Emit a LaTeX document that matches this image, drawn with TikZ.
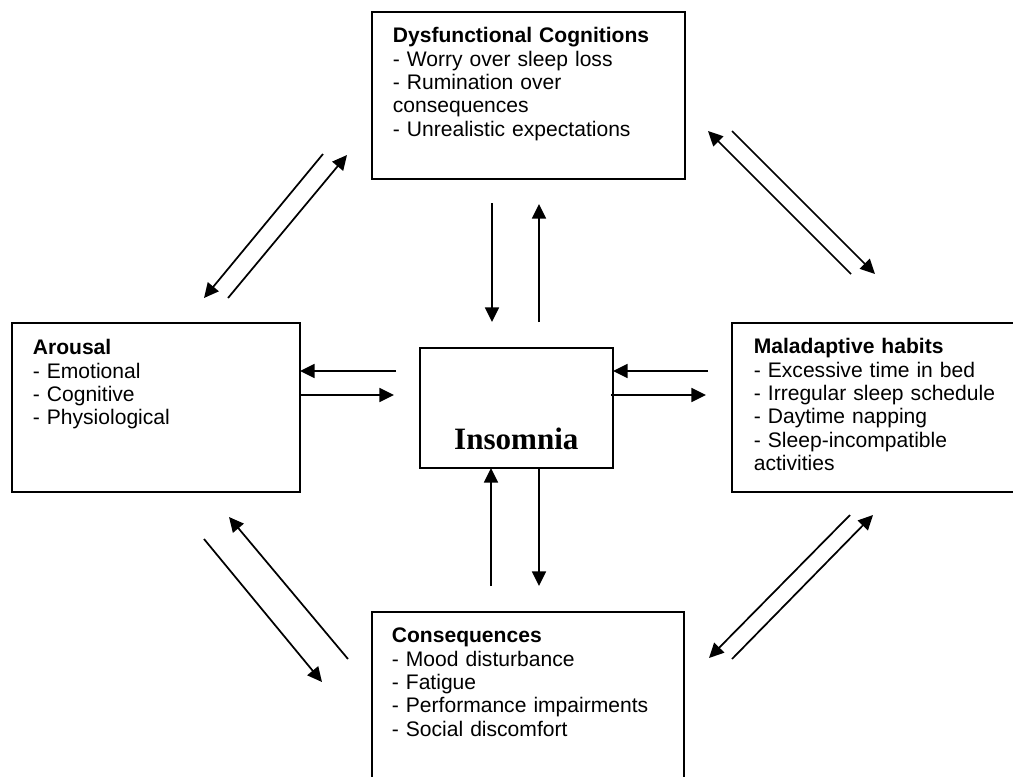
\documentclass[tikz,border=0pt]{standalone}
\usepackage{fontspec}
\setmainfont{Liberation Sans}
\newfontfamily\serifbold{Liberation Serif}
\usetikzlibrary{arrows.meta}

\begin{document}
\begin{tikzpicture}[x=0.75pt, y=-0.75pt,
  font=\fontsize{15.8pt}{17.5pt}\selectfont, >={Triangle[length=11pt,width=10.5pt]},
  box/.style={draw, line width=1.3pt, anchor=north west, align=left, inner ysep=0pt},
  flow/.style={->, line width=1.3pt}]
  \useasboundingbox (0,0) rectangle (1013,776);
  % the five boxes
  \node[box, inner xsep=15.75pt, text width=203.25pt, text height=23.25pt, text depth=102pt] (cog) at (371,11)
    {\textbf{Dysfunctional Cognitions}\\- Worry over sleep loss\\- Rumination over\\consequences\\- Unrealistic expectations};
  \node[box, inner xsep=15.75pt, text width=184.5pt, text height=24pt, text depth=102.75pt] (arousal) at (11,322)
    {\textbf{Arousal}\\- Emotional\\- Cognitive\\- Physiological};
  \node[box, inner xsep=16.5pt, text width=191.25pt, text height=23.25pt, text depth=103.5pt] (habits) at (731,322)
    {\textbf{Maladaptive habits}\\- Excessive time in bed\\- Irregular sleep schedule\\- Daytime napping\\- Sleep-incompatible\\activities};
  \node[box, inner xsep=15pt, text width=204pt, text height=23.25pt, text depth=102.75pt] (conseq) at (371,611)
    {\textbf{Consequences}\\- Mood disturbance\\- Fatigue\\- Performance impairments\\- Social discomfort};
  \node[draw, line width=1.3pt, anchor=north west, inner sep=0pt, minimum width=144.75pt,
    text height=76.5pt, text depth=13.5pt, font=\serifbold\bfseries\fontsize{23.3pt}{26pt}\selectfont] (ins) at (419,347) {Insomnia};

  % cognitions <-> insomnia
  \coordinate (ci-a) at (492,203); \coordinate (ci-b) at (492,322);
  \coordinate (ic-a) at (539,322); \coordinate (ic-b) at (539,204);
  \draw[flow] (ci-a) -- (ci-b); \draw[flow] (ic-a) -- (ic-b);
  % consequences <-> insomnia
  \coordinate (ki-a) at (491,586); \coordinate (ki-b) at (491,468);
  \coordinate (ik-a) at (539,468); \coordinate (ik-b) at (539,586);
  \draw[flow] (ki-a) -- (ki-b); \draw[flow] (ik-a) -- (ik-b);
  % arousal <-> insomnia
  \coordinate (ia-a) at (396,371); \coordinate (ia-b) at (300,371);
  \coordinate (ai-a) at (299,395); \coordinate (ai-b) at (394,395);
  \draw[flow] (ia-a) -- (ia-b); \draw[flow] (ai-a) -- (ai-b);
  % habits <-> insomnia
  \coordinate (ih-a) at (708,371); \coordinate (ih-b) at (613,371);
  \coordinate (hi-a) at (611,395); \coordinate (hi-b) at (706,395);
  \draw[flow] (ih-a) -- (ih-b); \draw[flow] (hi-a) -- (hi-b);

  % outer ring
  \coordinate (ca-a) at (323,154); \coordinate (ca-b) at (204,298);
  \coordinate (ac-a) at (228,298); \coordinate (ac-b) at (347,155);
  \draw[flow] (ca-a) -- (ca-b); \draw[flow] (ac-a) -- (ac-b);
  \coordinate (hc-a) at (851,274); \coordinate (hc-b) at (708,131);
  \coordinate (ch-a) at (732,131); \coordinate (ch-b) at (875,274);
  \draw[flow] (hc-a) -- (hc-b); \draw[flow] (ch-a) -- (ch-b);
  \coordinate (ka-a) at (348,659); \coordinate (ka-b) at (229,517);
  \coordinate (ak-a) at (204,539); \coordinate (ak-b) at (322,682);
  \draw[flow] (ka-a) -- (ka-b); \draw[flow] (ak-a) -- (ak-b);
  \coordinate (hk-a) at (850,515); \coordinate (hk-b) at (709,658);
  \coordinate (kh-a) at (732,659); \coordinate (kh-b) at (873,515);
  \draw[flow] (hk-a) -- (hk-b); \draw[flow] (kh-a) -- (kh-b);
\end{tikzpicture}
\end{document}
